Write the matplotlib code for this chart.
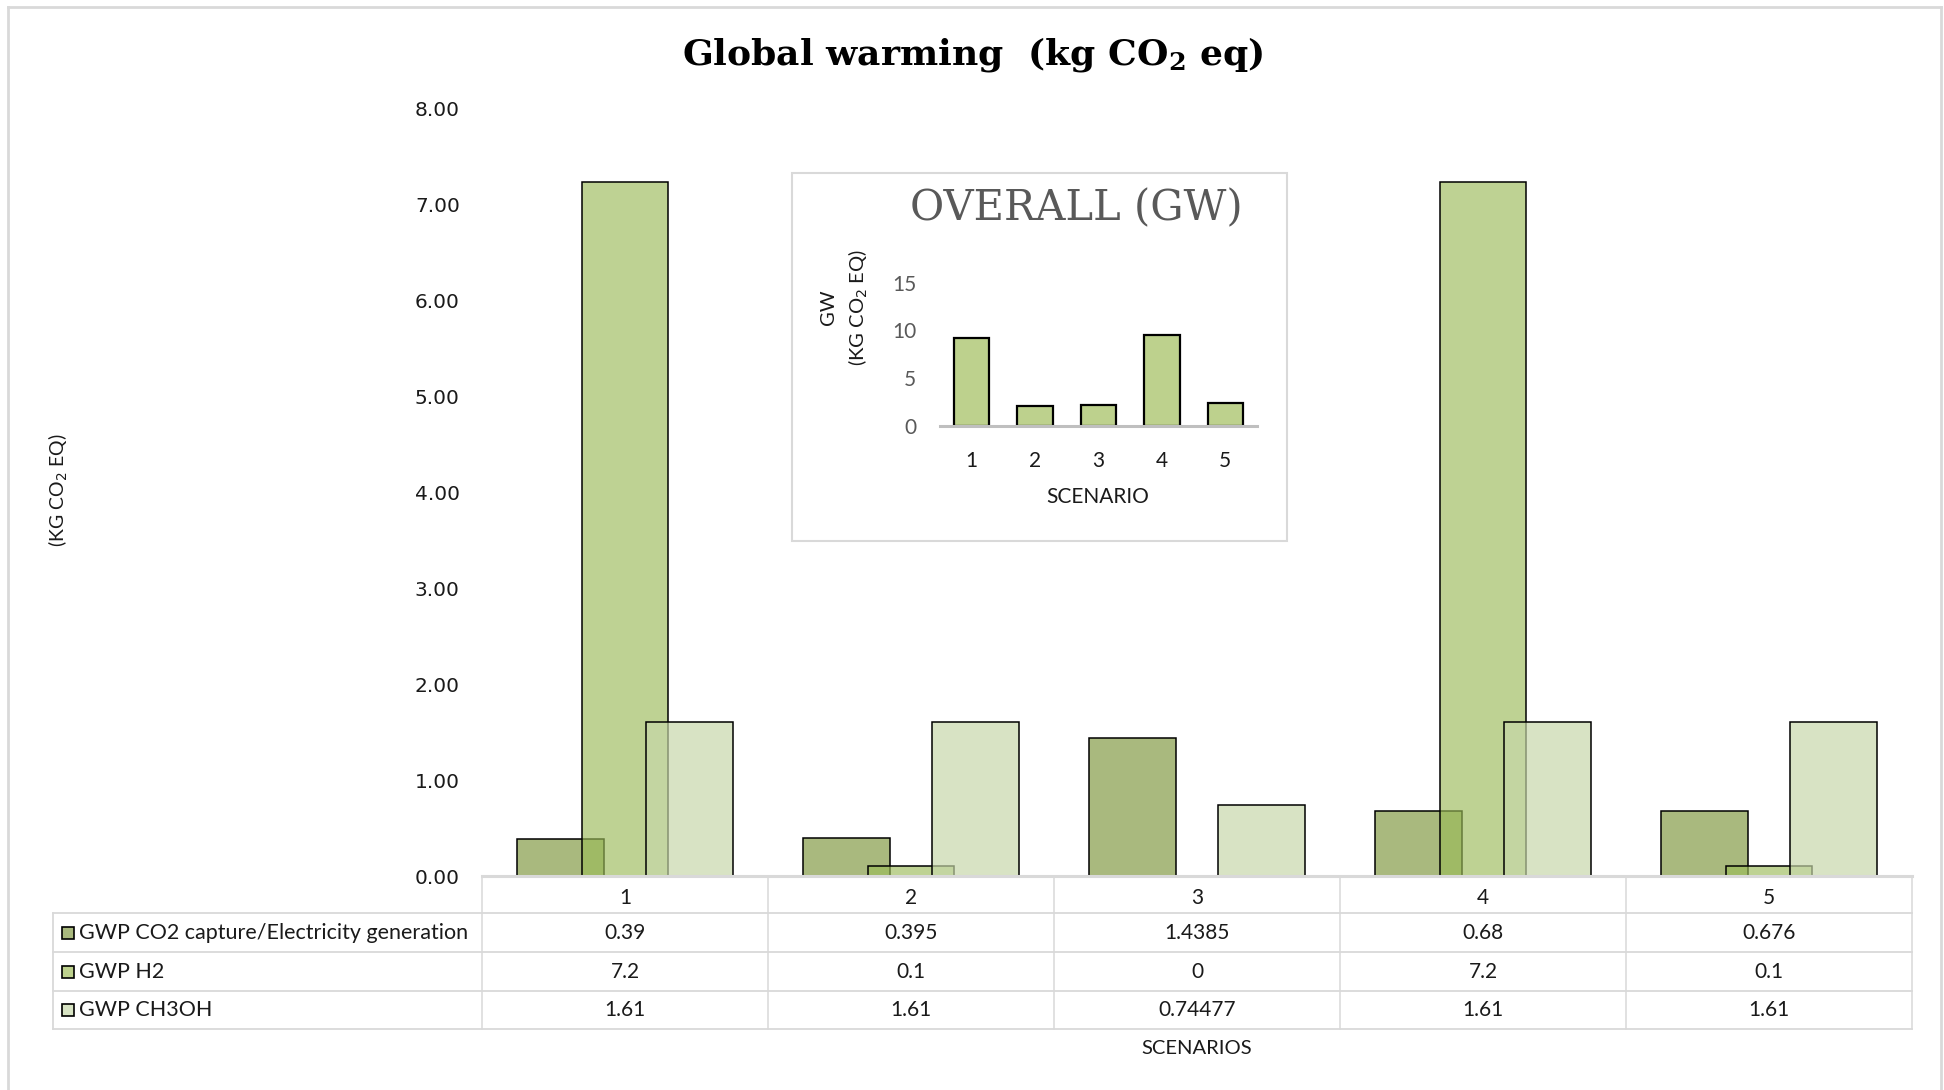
import numpy as np
import matplotlib.pyplot as plt
from matplotlib.patches import Rectangle
from matplotlib.transforms import blended_transform_factory

# data
scenarios = ['1', '2', '3', '4', '5']
series_names = ['GWP CO2 capture/Electricity generation', 'GWP H2', 'GWP CH3OH']
gwp_co2 = [0.39, 0.395, 1.4385, 0.68, 0.676]
gwp_h2 = [7.24, 0.1, 0, 7.24, 0.1]
gwp_ch3oh = [1.61, 1.61, 0.74477, 1.61, 1.61]
# values as printed in the data table
co2_shown = ['0.39', '0.395', '1.4385', '0.68', '0.676']
h2_shown = ['7.2', '0.1', '0', '7.2', '0.1']
ch3oh_shown = ['1.61', '1.61', '0.74477', '1.61', '1.61']
# inset: overall GW per scenario
overall = [9.23, 2.1, 2.18, 9.53, 2.39]

co2_col = '#A9B97E'
h2_col = (155/255, 187/255, 89/255, 0.65)
ch3oh_col = (198/255, 215/255, 168/255, 0.68)
key_cols = ['#A9B97E', '#BDD18D', '#D8E4C4']
grid_col = '#D9D9D9'
txt_col = '#1a1a1a'
sans = 'Lato'

W, H = 1944, 1090
fig = plt.figure(figsize=(W / 100, H / 100), dpi=100)


def fx(px):
    return px / W


def fy(py):
    return 1 - py / H


# overlay in pixel coords for borders, table, free text
ov = fig.add_axes([0, 0, 1, 1], zorder=0)
ov.set_xlim(0, W)
ov.set_ylim(H, 0)
ov.axis('off')

# chart border
ov.plot([8, 1941], [7, 7], color=grid_col, lw=2)
ov.plot([8, 8], [7, H], color=grid_col, lw=2)
ov.plot([1941, 1941], [7, H], color=grid_col, lw=2)

# main axes
ax = fig.add_axes([fx(482), fy(876), (1912 - 482) / W, (876 - 109) / H], zorder=1)
ax.set_facecolor('none')
x = np.arange(len(scenarios))
bw = 0.304
step = 0.227
ax.bar(x - step, gwp_co2, bw, color=co2_col, edgecolor='black', lw=1.1)
ax.bar(x, gwp_h2, bw, color=h2_col, edgecolor='black', lw=1.1)
ax.bar(x + step, gwp_ch3oh, bw, color=ch3oh_col, edgecolor='black', lw=1.1)
ax.set_xlim(-0.5, len(scenarios) - 0.5)
ax.set_ylim(0, 8)
ax.set_yticks(np.arange(0, 9, 1))
ax.yaxis.set_major_formatter('{x:.2f}')
ax.tick_params(axis='y', length=0, pad=16, labelsize=14.5, labelcolor=txt_col)
ax.set_xticks([])
for s in ['top', 'right', 'left']:
    ax.spines[s].set_visible(False)
ax.spines['bottom'].set_color(grid_col)
ax.spines['bottom'].set_linewidth(2.2)

fig.text(fx(973), fy(55), 'Global warming  (kg CO$_\\mathbf{2}$ eq)', ha='center', va='center',
         family='DejaVu Serif', fontweight='bold', fontsize=26, math_fontfamily='dejavuserif')
fig.text(fx(58), fy(490), '(KG CO$_2$ EQ)', rotation=90, ha='center', va='center',
         family=sans, fontsize=14, color=txt_col)

# data table under the axis
trans = blended_transform_factory(ax.transData, ov.transData)
for yy in [913, 952, 991, 1029]:
    ov.plot([53, 1912], [yy, yy], color=grid_col, lw=1.3)
for b in np.arange(-0.5, len(scenarios)):
    ov.plot([b, b], [877, 1029], color=grid_col, lw=1.1, transform=trans)
ov.plot([53, 53], [913, 1029], color=grid_col, lw=1.3)

for i, s in enumerate(scenarios):
    ov.text(i, 898, s, transform=trans, ha='center', va='center', family=sans,
            fontsize=15, color=txt_col)

rows_y = [933, 972, 1010]
shown = [co2_shown, h2_shown, ch3oh_shown]
for r in range(3):
    yc = rows_y[r]
    ov.add_patch(Rectangle((62, yc - 6), 12, 12, facecolor=key_cols[r], edgecolor='black', lw=1.2))
    ov.text(79, yc, series_names[r], ha='left', va='center', family=sans, fontsize=15.5, color=txt_col)
    for i, v in enumerate(shown[r]):
        ov.text(i, yc, v, transform=trans, ha='center', va='center', family=sans,
                fontsize=15, color=txt_col)

ov.text(2, 1049, 'SCENARIOS', transform=trans, ha='center', va='center', family=sans,
        fontsize=14.5, color=txt_col)

# inset chart
ov.add_patch(Rectangle((792, 173), 495, 368, facecolor='white', edgecolor=grid_col, lw=1.5))
ov.text(1076, 208, 'OVERALL (GW)', ha='center', va='center', family='DejaVu Serif',
        fontsize=30, color='#595959')
ins = fig.add_axes([fx(940), fy(425.7), 317 / W, 143 / H], zorder=2)
ins.set_facecolor('none')
ins.bar(x, overall, 0.56, color='#BDD18D', edgecolor='black', lw=1.6)
ins.set_xlim(-0.5, len(scenarios) - 0.5)
ins.set_ylim(0, 15)
ins.set_yticks([0, 5, 10, 15])
ins.set_xticks(x)
ins.set_xticklabels(scenarios)
for s in ['top', 'right', 'left']:
    ins.spines[s].set_visible(False)
ins.spines['bottom'].set_color('#BFBFBF')
ins.spines['bottom'].set_linewidth(2.2)
ins.tick_params(axis='y', length=0, pad=17, labelsize=15, labelcolor='#595959')
ins.tick_params(axis='x', length=0, pad=18, labelsize=15, labelcolor=txt_col)
for lab in ins.get_xticklabels() + ins.get_yticklabels():
    lab.set_family(sans)
ov.text(1098, 497, 'SCENARIO', ha='center', va='center', family=sans, fontsize=15, color=txt_col)
ov.text(845, 307, 'GW\n(KG CO$_2$ EQ)', rotation=90, ha='center', va='center',
        multialignment='center', linespacing=1.5, family=sans, fontsize=14.5, color=txt_col)

fig.savefig('out.png', dpi=100)
